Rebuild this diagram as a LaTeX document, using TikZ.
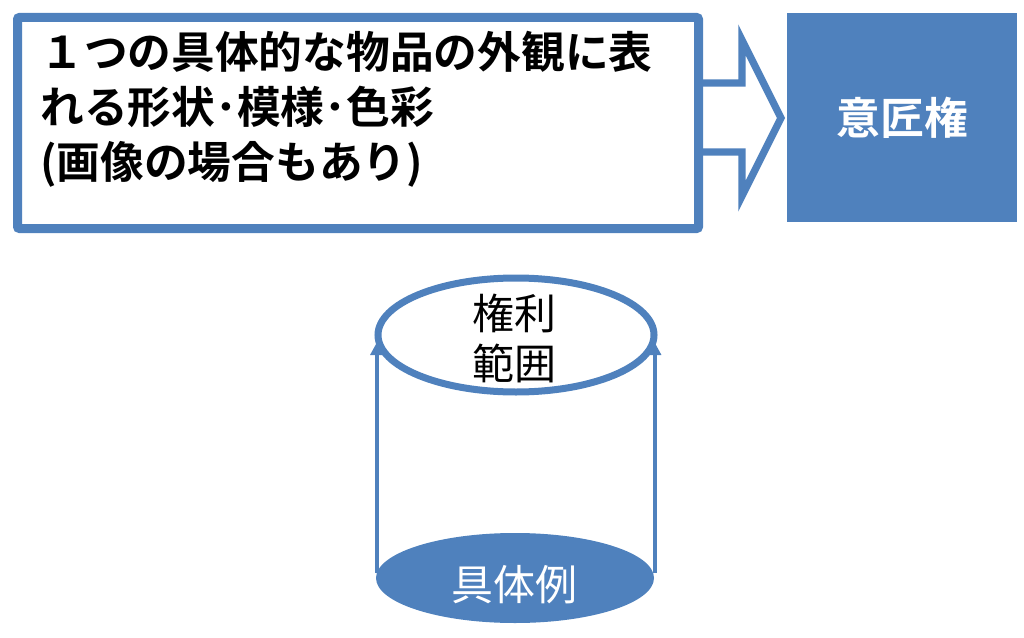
\documentclass[tikz,border=0pt]{standalone}
\usepackage{fontspec}
\newfontfamily\cjk{Noto Sans CJK JP}
\newfontfamily\cjkb{Noto Sans CJK JP Bold}
\definecolor{oblue}{HTML}{4F81BD}
\usetikzlibrary{arrows.meta}
\begin{document}
\begin{tikzpicture}[x=0.75pt,y=-0.75pt,
  bluebox/.style={draw=oblue,line width=6.75pt,fill=white,rounded corners=1.5pt},
  filledbox/.style={fill=oblue,draw=none},
  blockarrow/.style={draw=oblue,line width=5.5pt,fill=white,line join=miter},
  rimline/.style={draw=oblue,line width=5.25pt},
  sideline/.style={draw=oblue,line width=3pt,-{Triangle[length=9pt,width=9pt]}},
  bigtext/.style={font=\cjkb\fontsize{32.8}{41.25}\selectfont,inner sep=0pt},
  plaintext/.style={font=\cjk\fontsize{31.5}{37.5}\selectfont,inner sep=0pt}]
\useasboundingbox (0,0) rectangle (1024,638);
% block arrow
\draw[blockarrow] (680,83) -- (742,83) -- (742,40) -- (781,118) -- (742,196) -- (742,152) -- (680,152);
% left box
\node[bluebox,minimum width=681*0.75pt,minimum height=211*0.75pt,anchor=north west,inner sep=0pt] (src) at (13,13) {};
\node[bigtext,anchor=west,align=left,text=black] (srctext) at (40,109)
  {１つの具体的な物品の外観に表\\れる形状･模様･色彩\\(画像の場合もあり)};
% right box
\node[filledbox,minimum width=230*0.75pt,minimum height=209*0.75pt,anchor=north west,inner sep=0pt] (right) at (787,13) {};
\node[bigtext,text=white] (righttext) at (right.center) {意匠権};
% cylinder
\coordinate (lb) at (376.5,573);
\coordinate (lt) at (376.5,343);
\coordinate (rb) at (655,573);
\coordinate (rt) at (655,343);
\draw[sideline] (lb) -- (lt);
\draw[sideline] (rb) -- (rt);
\draw[rimline,fill=white] (516,335) ellipse [x radius=138, y radius=57];
\node[plaintext,align=center,text=black] (top) at (514,338) {権利\\範囲};
\fill[oblue] (515,578) ellipse [x radius=139, y radius=45];
\node[plaintext,text=white] (bottom) at (514,585) {具体例};
\end{tikzpicture}
\end{document}
